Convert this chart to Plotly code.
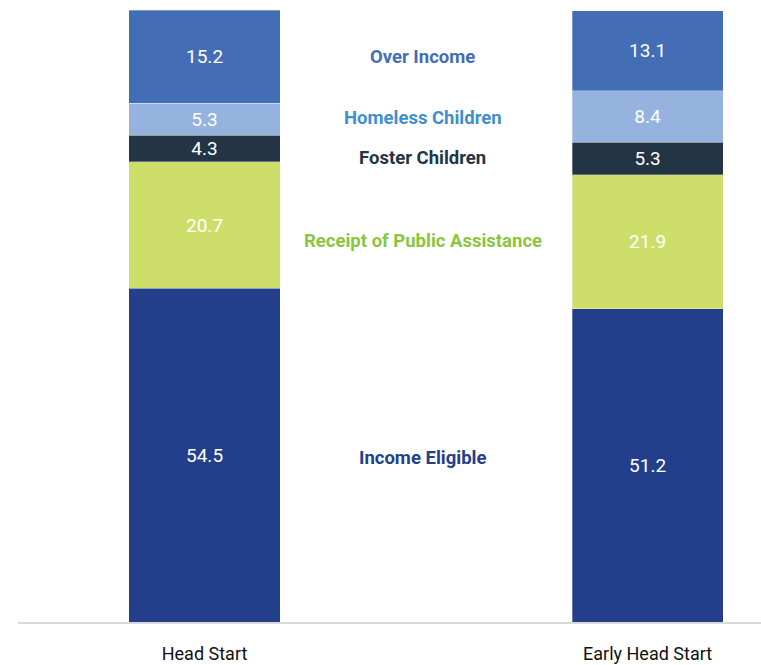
import plotly.graph_objects as go

categories = ["Head Start", "Early Head Start"]
series_names = ["Income Eligible", "Receipt of Public Assistance", "Foster Children",
                "Homeless Children", "Over Income"]
income_eligible = [54.5, 51.2]
public_assistance = [20.7, 21.9]
foster_children = [4.3, 5.3]
homeless_children = [5.3, 8.4]
over_income = [15.2, 13.1]

series_values = [income_eligible, public_assistance, foster_children,
                 homeless_children, over_income]
bar_colors = ["#233F8C", "#CDDF6A", "#233545", "#95B3DE", "#436DB5"]
label_colors = ["#233F8C", "#8BC53F", "#233545", "#3D8FD0", "#436DB5"]
label_y = [26.8, 62.3, 75.8, 82.4, 92.3]

FONT = "Roboto, Liberation Sans, sans-serif"

fig = go.Figure()
for name, vals, col in zip(series_names, series_values, bar_colors):
    fig.add_trace(go.Bar(
        x=[0, 1], y=vals, name=name,
        marker=dict(color=col, line=dict(color="rgba(255,255,255,0.6)", width=0.5)),
        width=0.341,
        text=[f"{v:.1f}" for v in vals],
        textposition="inside", insidetextanchor="middle",
        constraintext="none",
        textfont=dict(color="white", size=19, family=FONT),
        hoverinfo="skip",
    ))

for name, y, col in zip(series_names, label_y, label_colors):
    fig.add_annotation(x=0.493, y=y, xref="x", yref="y", text=f"<b>{name}</b>",
                       showarrow=False, font=dict(color=col, size=18.5, family=FONT))

fig.update_layout(
    barmode="stack", width=761, height=665,
    margin=dict(l=18, r=0, t=10, b=43),
    paper_bgcolor="white", plot_bgcolor="white",
    showlegend=False,
    xaxis=dict(range=[-0.421, 1.256], tickvals=[0, 1], ticktext=categories,
               showline=True, linecolor="#D9D9D9", linewidth=2, showgrid=False,
               zeroline=False, ticks="", ticklabelstandoff=14, automargin=False,
               tickfont=dict(size=18, color="#111111", family=FONT)),
    yaxis=dict(range=[0, 100], visible=False, showgrid=False, zeroline=False,
               automargin=False),
)

fig.write_html("out.html", config={"displayModeBar": False},
               post_script="document.body.style.margin='0';document.body.style.overflow='hidden';")
